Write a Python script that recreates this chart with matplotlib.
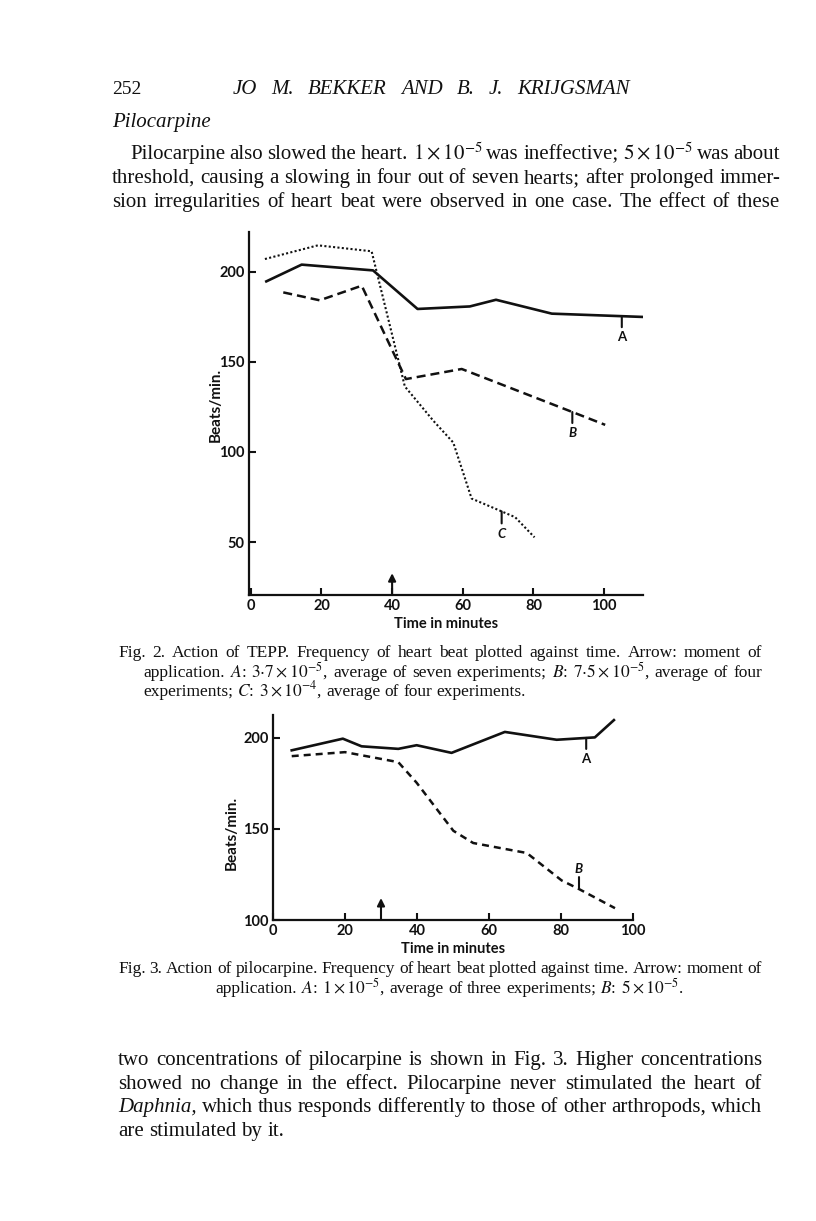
import numpy as np
import matplotlib
matplotlib.use("Agg")
import matplotlib.pyplot as plt
import matplotlib.transforms as mtransforms

plt.rcParams['mathtext.fontset'] = 'stix'

# Fig. 2 - TEPP (tiempo en minutos, latidos/min)
tepp_a_t = [4.4, 14.4, 34.6, 47.2, 62, 69.4, 85.2, 112]
tepp_a_bpm = [194.6, 203.9, 200.7, 179.3, 180.7, 184.4, 176.7, 174.8]
tepp_b_t = [9.2, 19.5, 31.4, 43.9, 59.7, 91.3, 100.3]
tepp_b_bpm = [188.5, 184.1, 192.2, 140.4, 146, 121.9, 115]
tepp_c_t = [4, 19, 34.2, 43.6, 51.7, 57.3, 62.5, 74.8, 80.3]
tepp_c_bpm = [207, 214.6, 211.3, 136.3, 117.2, 105.2, 74.1, 63.8, 52.6]
tepp_xticks = [0, 20, 40, 60, 80, 100]
tepp_yticks = [50, 100, 150, 200]
tepp_arrow = 40
tepp_label_t = {'A': 105, 'B': 91, 'C': 71}

# Fig. 3 - pilocarpina
pilo_a_t = [5.2, 19.4, 24.6, 34.8, 39.9, 49.6, 64.4, 78.8, 89.4, 94.7]
pilo_a_bpm = [193.2, 199.6, 195.4, 194, 196, 191.8, 203.3, 199, 200.3, 209.8]
pilo_b_t = [5.2, 20, 34.8, 39.9, 50.1, 55.6, 70.5, 80.2, 84.9, 95]
pilo_b_bpm = [190, 192.2, 186.7, 175.4, 149, 142.3, 136.8, 121.7, 117.1, 106.5]
pilo_xticks = [0, 20, 40, 60, 80, 100]
pilo_yticks = [100, 150, 200]
pilo_arrow = 30
pilo_label_t = {'A': 87, 'B': 85}

W, H = 816, 1221
fig = plt.figure(figsize=(W / 100, H / 100), dpi=100)
ink = '#111111'
sans = 'Lato'
serif = 'Liberation Serif'


def ax_at(left, top, right, bottom):
    # caja en pixeles de la pagina
    return fig.add_axes([left / W, 1 - bottom / H, (right - left) / W, (bottom - top) / H])


def style_axes(ax, xticks, yticks):
    for s in ['top', 'right']:
        ax.spines[s].set_visible(False)
    for s in ['left', 'bottom']:
        ax.spines[s].set_linewidth(1.6)
        ax.spines[s].set_color(ink)
    ax.set_xticks(xticks)
    ax.set_yticks(yticks)
    ax.tick_params(direction='in', length=5, width=1.5, color=ink, pad=3,
                   labelsize=10.5, labelcolor=ink)
    for lab in ax.get_xticklabels() + ax.get_yticklabels():
        lab.set_fontfamily(sans)
        lab.set_fontweight('bold')
    ax.set_xlabel('Time in minutes', fontsize=10.5, fontweight='bold', family=sans, labelpad=3, color=ink)
    ax.set_ylabel('Beats/min.', fontsize=11, fontweight='bold', family=sans, color=ink)


def mark(ax, t, xs, ys, letter, down=True, tick_px=11, text_px=21):
    yv = np.interp(t, xs, ys)
    sgn = -1 if down else 1
    ax.annotate('', xy=(t, yv), xytext=(0, sgn * tick_px * 0.72), textcoords='offset points',
                arrowprops=dict(arrowstyle='-', lw=1.5, color=ink, shrinkA=0, shrinkB=0))
    ax.annotate(letter, xy=(t, yv), xytext=(0, sgn * text_px * 0.72), textcoords='offset points',
                ha='center', va='center', fontsize=9.5, fontweight='bold', family=sans,
                style='italic' if letter != 'A' else 'normal', color=ink)


def arrow(ax, t, frac):
    tr = mtransforms.blended_transform_factory(ax.transData, ax.transAxes)
    ax.annotate('', xy=(t, frac), xytext=(t, 0), xycoords=tr, textcoords=tr,
                arrowprops=dict(arrowstyle='-|>', lw=1.5, color=ink, mutation_scale=11,
                                shrinkA=0, shrinkB=0))


# ---- Fig. 2 ----
ax1 = ax_at(249, 232, 643, 595)
ax1.plot(tepp_a_t, tepp_a_bpm, color=ink, lw=1.9, solid_joinstyle='round')
ax1.plot(tepp_b_t, tepp_b_bpm, color=ink, lw=1.8, dashes=(3.6, 2.0))
ax1.plot(tepp_c_t, tepp_c_bpm, color=ink, lw=1.5, dashes=(1.0, 1.1))
ax1.set_xlim(-0.5, 111)
ax1.set_ylim(20.6, 222)
style_axes(ax1, tepp_xticks, tepp_yticks)
ax1.yaxis.set_label_coords(-0.066, 0.523)
mark(ax1, tepp_label_t['A'], tepp_a_t, tepp_a_bpm, 'A')
mark(ax1, tepp_label_t['B'], tepp_b_t, tepp_b_bpm, 'B')
mark(ax1, tepp_label_t['C'], tepp_c_t, tepp_c_bpm, 'C', tick_px=12, text_px=23)
arrow(ax1, tepp_arrow, 0.06)

# ---- Fig. 3 ----
ax2 = ax_at(273, 715, 633, 920)
ax2.plot(pilo_a_t, pilo_a_bpm, color=ink, lw=1.9, solid_joinstyle='round')
ax2.plot(pilo_b_t, pilo_b_bpm, color=ink, lw=1.8, dashes=(2.8, 2.0))
ax2.set_xlim(0, 100)
ax2.set_ylim(100, 212.6)
style_axes(ax2, pilo_xticks, pilo_yticks)
ax2.yaxis.set_label_coords(-0.095, 0.424)
mark(ax2, pilo_label_t['A'], pilo_a_t, pilo_a_bpm, 'A')
mark(ax2, pilo_label_t['B'], pilo_b_t, pilo_b_bpm, 'B', down=False, tick_px=12, text_px=20)
arrow(ax2, pilo_arrow, 0.107)

# ---- texto de la pagina ----
renderer = fig.canvas.get_renderer()


def text_width(s, size, style):
    t = fig.text(0, 0, s, fontsize=size, family=serif, style=style)
    w = t.get_window_extent(renderer).width
    t.remove()
    return w


def line(txt, x0, x1, base, size, style='normal', justify=True):
    # palabras que empiezan con '_' van en cursiva
    space = text_width('a a', size, style) - 2 * text_width('a', size, style)
    words = txt.split(' ')
    objs = []
    for w in words:
        st = style
        if w.startswith('_'):
            w, st = w[1:], 'italic'
        objs.append(fig.text(0, 1 - base / H, w, fontsize=size, family=serif, style=st,
                             va='baseline', ha='left', color=ink))
    widths = [o.get_window_extent(renderer).width for o in objs]
    if justify and len(words) > 1:
        gap = (x1 - x0 - sum(widths)) / (len(words) - 1)
    else:
        gap = space
    x = x0
    for o, w in zip(objs, widths):
        o.set_x(x / W)
        x += w + gap


line('252', 112, 140, 94, 14, justify=False)
line('JO M. BEKKER AND B. J. KRIJGSMAN', 233, 630, 94, 15, style='italic')
line('Pilocarpine', 112, 200, 127, 15, style='italic', justify=False)

body = [
    r'Pilocarpine also slowed the heart. $1\times10^{-5}$ was ineffective; $5\times10^{-5}$ was about',
    'threshold, causing a slowing in four out of seven hearts; after prolonged immer-',
    'sion irregularities of heart beat were observed in one case. The effect of these',
]
line(body[0], 130, 780, 159, 15)
line(body[1], 112, 780, 183, 15)
line(body[2], 112, 780, 207, 15)

cap2 = [
    'Fig. 2. Action of TEPP. Frequency of heart beat plotted against time. Arrow: moment of',
    r'application. $A$: $3{\cdot}7\times10^{-5}$, average of seven experiments; $B$: $7{\cdot}5\times10^{-5}$, average of four',
    r'experiments; $C$: $3\times10^{-4}$, average of four experiments.',
]
line(cap2[0], 118, 762, 657, 12.5)
line(cap2[1], 143, 762, 677, 12.5)
line(cap2[2], 143, 762, 696, 12.5, justify=False)

cap3 = [
    'Fig. 3. Action of pilocarpine. Frequency of heart beat plotted against time. Arrow: moment of',
    r'application. $A$: $1\times10^{-5}$, average of three experiments; $B$: $5\times10^{-5}$.',
]
line(cap3[0], 118, 762, 973, 12.5)
line(cap3[1], 215, 662, 993, 12.5, justify=False)

tail = [
    'two concentrations of pilocarpine is shown in Fig. 3. Higher concentrations',
    'showed no change in the effect. Pilocarpine never stimulated the heart of',
    '_Daphnia, which thus responds differently to those of other arthropods, which',
    'are stimulated by it.',
]
line(tail[0], 118, 762, 1065, 15)
line(tail[1], 118, 762, 1089, 15)
line(tail[2], 118, 762, 1112, 15)
line(tail[3], 118, 762, 1136, 15, justify=False)

fig.savefig('out.png', dpi=100, facecolor='white')
